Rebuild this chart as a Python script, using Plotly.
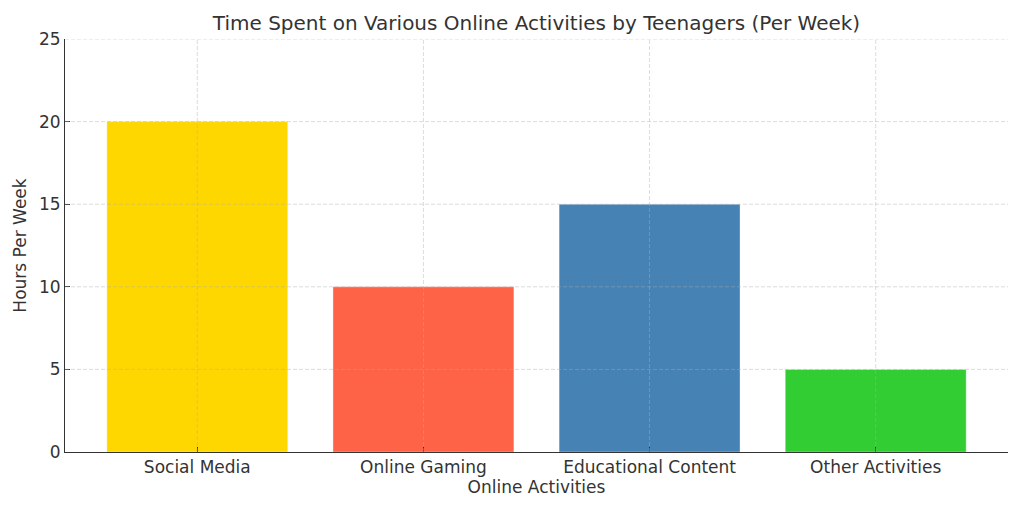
import plotly.graph_objects as go

categories = ["Social Media", "Online Gaming", "Educational Content", "Other Activities"]
hours = [20, 10, 15, 5]
colors = ["#FFD700", "#FF6347", "#4682B4", "#32CD32"]
y_ticks = [0, 5, 10, 15, 20, 25]

fig = go.Figure()
fig.add_trace(go.Bar(
    x=categories, y=hours, width=0.8,
    marker=dict(color=colors, line=dict(color="rgba(255,255,255,0.35)", width=1)),
    showlegend=False,
))

grid_style = dict(color="rgba(175,175,175,0.55)", width=0.8, dash="4px,2px")
for v in y_ticks[1:]:
    fig.add_shape(type="line", xref="paper", x0=0, x1=1, yref="y", y0=v, y1=v,
                  line=grid_style, layer="above")
for c in categories:
    fig.add_shape(type="line", xref="x", x0=c, x1=c, yref="paper", y0=0, y1=1,
                  line=grid_style, layer="above")

font_family = "DejaVu Sans, sans-serif"
fig.update_layout(
    width=1008, height=496,
    margin=dict(l=57, r=8, t=31, b=52),
    paper_bgcolor="white", plot_bgcolor="white",
    font=dict(family=font_family, color="#333333", size=17),
    title=dict(text="Time Spent on Various Online Activities by Teenagers (Per Week)",
               x=0.5, xref="paper", xanchor="center", y=1 - 15 / 496, yanchor="middle",
               font=dict(size=20, color="#333333")),
    xaxis=dict(
        range=[-0.585, 3.585], showgrid=False, showline=True, linecolor="#333333", linewidth=1,
        ticks="inside", ticklen=5, tickcolor="#333333",
        title=dict(text="Online Activities", standoff=3, font=dict(size=17)),
        tickfont=dict(size=17),
    ),
    yaxis=dict(
        range=[0, 25], tickvals=y_ticks, showgrid=False, showline=True, linecolor="#333333",
        linewidth=1, ticks="inside", ticklen=5, tickcolor="#333333", zeroline=False,
        title=dict(text="Hours Per Week", standoff=8, font=dict(size=17)),
        tickfont=dict(size=17),
    ),
    bargap=0.2,
)

fig.write_html("out.html")
